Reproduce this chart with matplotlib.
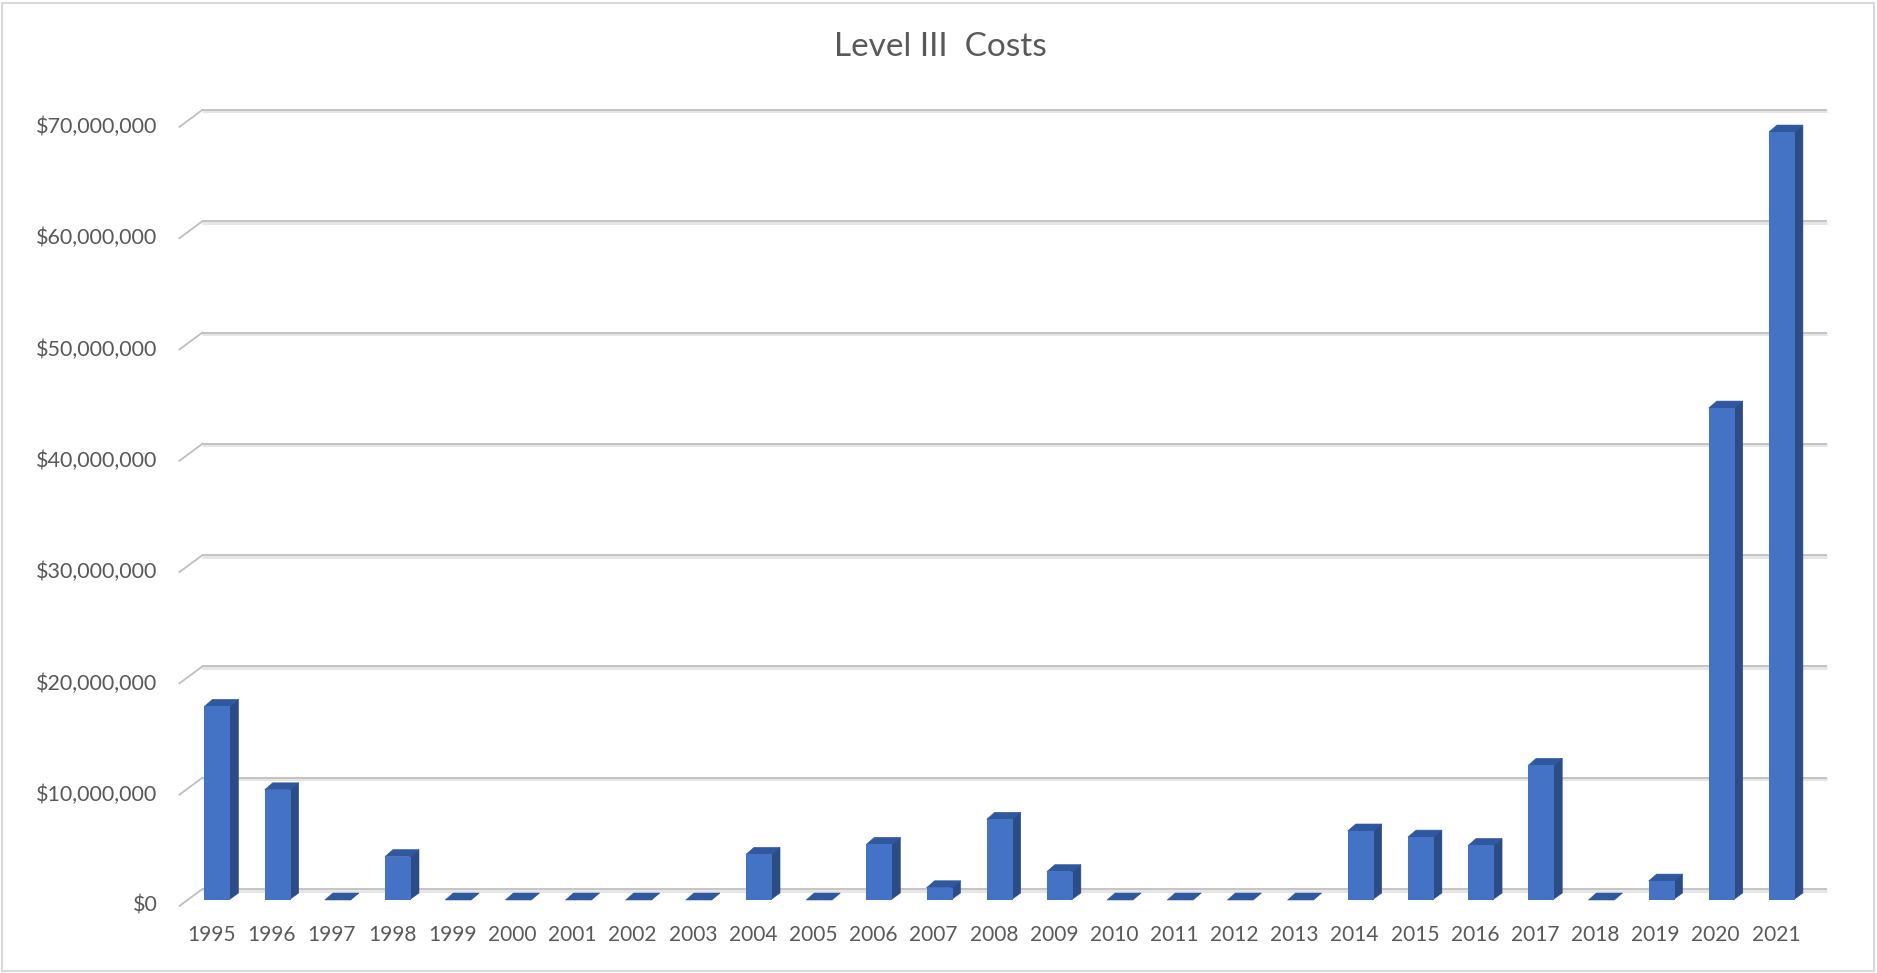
import numpy as np
import matplotlib
matplotlib.use("Agg")
import matplotlib.pyplot as plt
import matplotlib.transforms as mtransforms
from matplotlib.patches import Polygon, Rectangle

# data
years = [str(y) for y in range(1995, 2022)]
costs = [17.4e6, 9.9e6, 0, 3.9e6, 0, 0, 0, 0, 0, 4.1e6, 0, 5.0e6, 1.1e6,
         7.25e6, 2.55e6, 0, 0, 0, 0, 6.2e6, 5.65e6, 4.9e6, 12.1e6, 0, 1.7e6,
         44.2e6, 69.0e6]
yticks = [0, 10e6, 20e6, 30e6, 40e6, 50e6, 60e6, 70e6]
ytick_labels = ["$0", "$10,000,000", "$20,000,000", "$30,000,000",
                "$40,000,000", "$50,000,000", "$60,000,000", "$70,000,000"]
title = "Level III  Costs"

W, H, DPI = 1877, 973, 100
plt.rcParams['font.family'] = ['Lato', 'DejaVu Sans']
text_col = '#595959'

fig = plt.figure(figsize=(W / DPI, H / DPI), dpi=DPI)

# axes = the plane the bar fronts sit in (pixel layout)
left_px, right_px = 187.4, 1812.0
base_px, px_per_10m = 900.0, 111.3
top_px = base_px - 7 * px_per_10m
ax = fig.add_axes([left_px / W, 1 - base_px / H,
                   (right_px - left_px) / W, (base_px - top_px) / H])
n = len(years)
ax.set_xlim(-0.5, n - 0.5)
ax.set_ylim(0, 70e6)
ax.axis('off')

px_x = (right_px - left_px) / n          # pixels per category
px_y = px_per_10m / 10e6                 # pixels per dollar

def shifted(dx, dy):
    return mtransforms.offset_copy(ax.transData, fig, x=dx, y=dy, units='dots')

# back-wall gridlines with the little perspective stub on the left
back = shifted(15, 11)
for t in yticks:
    ax.plot([-0.5, n - 0.5], [t, t], color='#E6E6E6', lw=2.2, clip_on=False,
            transform=shifted(15, 9.5), zorder=1, solid_capstyle='butt')
    ax.plot([-0.5, n - 0.5], [t, t], color='#BFBFBF', lw=1.3, clip_on=False,
            transform=back, zorder=1.1, solid_capstyle='butt')
    x0 = -0.5 - 8 / px_x
    y0 = t - 6 / px_y
    x1 = -0.5 + 15 / px_x
    y1 = t + 11 / px_y
    ax.plot([x0, x1], [y0, y1], color='#BFBFBF', lw=1.3, zorder=1.1,
            clip_on=False)

# bars: front face, right side and top
bw = 26 / px_x
ddx, ddy = 8 / px_x, 7 / px_y
front_col, side_col, top_col = '#4472C4', '#2B4C87', '#30589F'
x = np.arange(n)
for xi, v in zip(x, costs):
    r = xi + bw / 2
    l = xi - bw / 2
    # side and top drawn first, a touch wider, so no seam shows at the edges
    ax.add_patch(Polygon([(r - 0.2 * ddx, 0), (r + ddx, ddy), (r + ddx, v + ddy),
                          (r - 0.2 * ddx, v)],
                         closed=True, facecolor=side_col, edgecolor=side_col,
                         lw=0.4, zorder=2.9, clip_on=False))
    ax.add_patch(Polygon([(l, v), (r, v), (r + ddx, v + ddy), (l + ddx, v + ddy)],
                         closed=True, facecolor=top_col, edgecolor=top_col,
                         lw=0.4, zorder=2.95, clip_on=False))
ax.bar(x, costs, width=bw, color=front_col, zorder=3, linewidth=0,
       clip_on=False)

# tick labels on the front plane
ylab_tr = shifted(-30, -6)
for t, lab in zip(yticks, ytick_labels):
    ax.text(-0.5, t, lab, transform=ylab_tr, ha='right', va='center',
            fontsize=15.5, color=text_col)
xlab_tr = shifted(-6, -35)
for xi, lab in zip(x, years):
    ax.text(xi, 0, lab, transform=xlab_tr, ha='center', va='center',
            fontsize=15, color=text_col)

fig.text(940 / W, 1 - 47 / H, title, ha='center', va='center',
         fontsize=24, color=text_col)

# chart area border
fig.patches.append(Rectangle((2 / W, 2 / H), (W - 5) / W, (H - 5) / H,
                             transform=fig.transFigure, fill=False,
                             edgecolor='#D9D9D9', lw=1.5))

fig.savefig('out.png', dpi=DPI, facecolor='white')
